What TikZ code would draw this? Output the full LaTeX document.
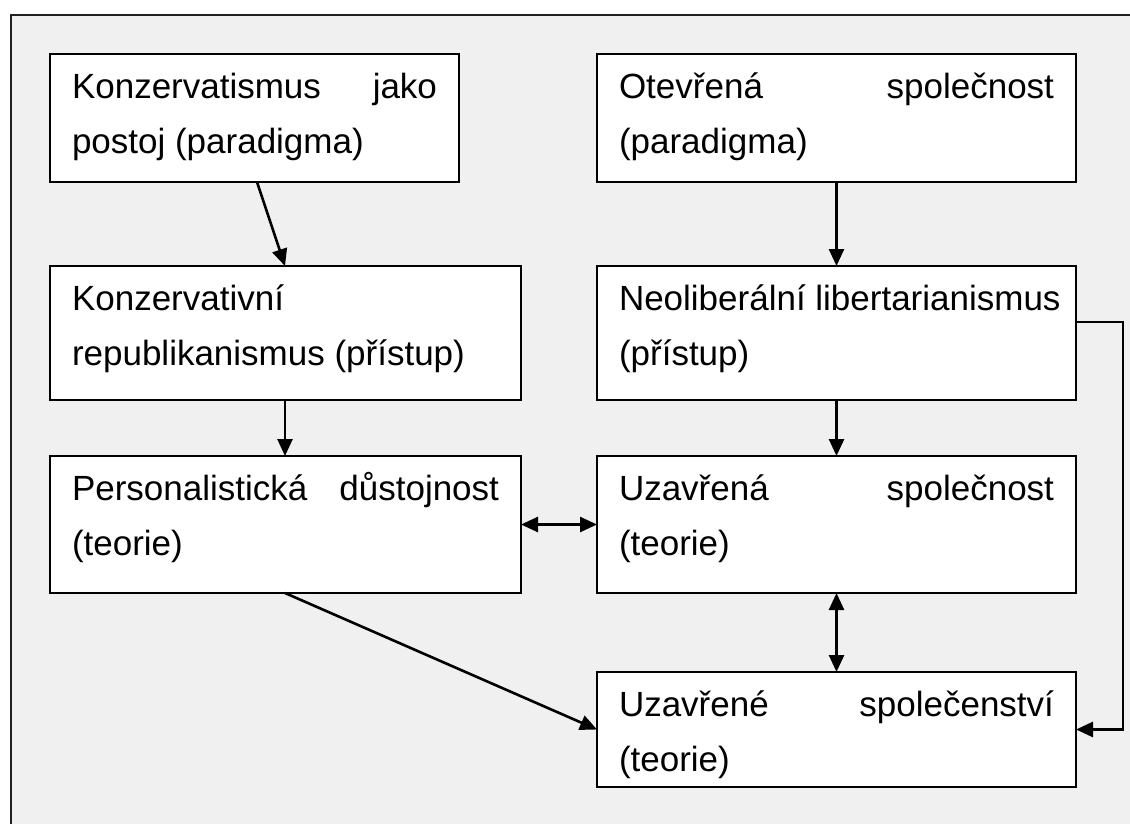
\documentclass[tikz,border=0pt]{standalone}
\usepackage{fontspec}
\setmainfont{Liberation Sans}
\usetikzlibrary{arrows.meta,calc}

\definecolor{panel}{HTML}{F0F0F0}
\definecolor{framecol}{HTML}{202020}

% one text line of fixed width, with zero height and depth
\newcommand\textline[2]{\setbox0=\hbox to #1{#2}\ht0=0pt \dp0=0pt \box0 }
% two-line box content: width, height, first line, second line
\newcommand\boxtext[4]{\vbox to #2{\offinterlineskip\kern44pt
  \textline{#1}{#3}\kern55pt\textline{#1}{#4}\vss}}

\tikzset{
  stepbox/.style={draw=black, line width=2.4pt, fill=white, rectangle,
    anchor=north west, inner xsep=22pt, inner ysep=0pt, outer sep=0pt,
    font=\fontsize{35}{55}\selectfont},
  tip/.tip={Triangle[length=17pt,width=15pt]},
  link/.style={line width=2.6pt, -tip},
  dlink/.style={line width=2.6pt, tip-tip}
}

\begin{document}
\begin{tikzpicture}[x=1pt,y=-1pt]
\useasboundingbox (0,0) rectangle (1130,823);
\begin{scope}
\clip (0,0) rectangle (1130,823);
\draw[fill=panel, draw=framecol, line width=2pt] (10.5,15) rectangle (1180,880);
\end{scope}

\node[stepbox] (b1) at (50,54)
  {\boxtext{365pt}{128pt}{Konzervatismus\hfill jako}{postoj (paradigma)\hfil}};
\node[stepbox] (b2) at (597,54)
  {\boxtext{435pt}{128pt}{Otevřená\hfill společnost}{(paradigma)\hfil}};
\node[stepbox] (b3) at (50,266)
  {\boxtext{427pt}{134pt}{Konzervativní\hfil}{republikanismus (přístup)\hfil}};
\node[stepbox] (b4) at (597,266)
  {\boxtext{435pt}{134pt}{Neoliberální libertarianismus\hss}{(přístup)\hfil}};
\node[stepbox] (b5) at (50,456)
  {\boxtext{427pt}{137pt}{Personalistická\hfill důstojnost}{(teorie)\hfil}};
\node[stepbox] (b6) at (597,456)
  {\boxtext{435pt}{137pt}{Uzavřená\hfill společnost}{(teorie)\hfil}};
\node[stepbox] (b7) at (597,672)
  {\boxtext{435pt}{115pt}{Uzavřené\hfill společenství}{(teorie)\hfil}};

\draw[link] ([xshift=207pt]b1.south west) -- ([xshift=235pt]b3.north west);
\draw[link] (b2.south) -- (b4.north);
\draw[link] ([xshift=235pt]b3.south west) -- ([xshift=235pt]b5.north west);
\draw[link] (b4.south) -- (b6.north);
\draw[dlink] (b5.east) -- (b6.west);
\draw[dlink] (b6.south) -- (b7.north);
\draw[link] ([xshift=235pt]b5.south west) -- (b7.west);
\draw[link] ([yshift=-56pt]b4.north east) -- ++(47,0) |- (b7.east);
\end{tikzpicture}
\end{document}
